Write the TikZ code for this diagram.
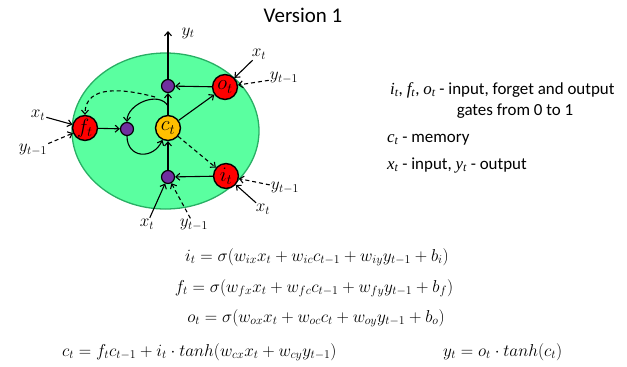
\documentclass[tikz,border=0pt]{standalone}
\usepackage{amsmath}
\usepackage{fontspec}
\newfontfamily\calibri{Carlito}
\newfontfamily\cambria{Liberation Serif}
\usetikzlibrary{arrows, arrows.meta, positioning, calc}
\definecolor{cellgreen}{RGB}{90,255,160}
\definecolor{celledge}{RGB}{40,175,100}
\definecolor{gatered}{RGB}{255,0,0}
\definecolor{memgold}{RGB}{255,192,0}
\definecolor{multpurple}{RGB}{112,48,160}
\newcommand{\cvar}[2]{{\cambria\itshape #1}\textsubscript{\cambria\itshape #2}}
\tikzset{
    gate/.style={circle, draw, line width=1.4pt, fill=gatered, minimum size=25pt, inner sep=0pt, font=\fontsize{20}{22}\selectfont},
    memcell/.style={gate, fill=memgold},
    mult/.style={circle, draw, line width=1.2pt, fill=multpurple, minimum size=13pt, inner sep=0pt},
    lbl/.style={inner sep=1pt, font=\fontsize{17}{19}\selectfont},
    arrow/.style={line width=1.1pt,->,>={Straight Barb[length=4pt,width=7pt]}},
    dsh/.style={dash pattern=on 4pt off 3pt}
}

\begin{document}
\begin{tikzpicture}[x=1bp, y=-1bp,
    eqn/.style={anchor=base, inner sep=0pt, font=\fontsize{17}{19}\selectfont},
    note/.style={anchor=base west, inner sep=0pt, font=\calibri\fontsize{17}{19}\selectfont}]
    \useasboundingbox (0,0) rectangle (627,366);

    % Title
    \node [anchor=base, inner sep=0pt, font=\calibri\fontsize{21}{24}\selectfont] (title) at (303,22) {Version 1};

    % Cell body
    \draw [fill=cellgreen, draw=celledge, line width=1.3pt] (165.5,131) ellipse [x radius=93.5, y radius=78];

    % Gates and memory
    \node (f) [gate] at (85,128) {$f_t$};
    \node (o) [gate] at (225,87) {$o_t$};
    \node (i) [gate] at (226,176) {$i_t$};
    \node (c) [memcell] at (168,128) {$c_t$};
    \node (mf) [mult] at (127,129) {};
    \node (mo) [mult] at (168,86) {};
    \node (mi) [mult] at (168,177) {};

    % Inputs
    \node (xf) [lbl] at (38,115) {$x_t$};
    \node (yf) [lbl] at (33,150) {$y_{t-1}$};
    \node (xo) [lbl] at (259,54) {$x_t$};
    \node (yo) [lbl] at (284,78) {$y_{t-1}$};
    \node (yi) [lbl] at (285,188) {$y_{t-1}$};
    \node (xi) [lbl] at (263,209) {$x_t$};
    \node (xm) [lbl] at (147,224) {$x_t$};
    \node (ym) [lbl] at (194,225) {$y_{t-1}$};
    \coordinate (yout) at (168,31);
    \node (yt) [lbl] at (188,33) {$y_t$};
    \coordinate (ltop) at (168,106);
    \coordinate (dstart) at (155,97);

    % Connections
    \draw [arrow] (xf) -- (f);
    \draw [arrow, dsh] (yf) -- (f);
    \draw [arrow] (xo) -- (o);
    \draw [arrow, dsh] (yo) -- (o);
    \draw [arrow] (xi) -- (i);
    \draw [arrow, dsh] (yi) -- (i);
    \draw [arrow] (xm) -- (mi);
    \draw [arrow, dsh] (ym) -- (mi);

    \draw [arrow] (f) -- (mf);
    \draw [arrow] (c) -- (mo);
    \draw [arrow] (mo) -- (yout);
    \draw [arrow] (o) -- (mo);
    \draw [arrow] (i) -- (mi);
    \draw [arrow] (mi) -- (c);
    \draw [arrow] (c) -- (o);
    \draw [arrow, dsh] (c) -- (i);

    \draw [arrow] (ltop) to[out=120, in=90, looseness=1.05] (mf);
    \draw [arrow] (mf) to[out=-90, in=-115, looseness=1.6] (c);
    \draw [arrow, dsh] (dstart) to[out=165, in=90, looseness=1.1] (f);

    % Legend
    \node (n1) [note] at (390,94) {\cvar{i}{t}, \cvar{f}{t}, \cvar{o}{t} - input, forget and output};
    \node (n2) [note, anchor=base] at (515,115) {gates from 0 to 1};
    \node (n3) [note] at (387,142) {\cvar{c}{t} - memory};
    \node (n4) [note] at (387,169) {\cvar{x}{t} - input, \cvar{y}{t} - output};

    % Equations
    \node (e1) [eqn] at (317,261) {$i_t = \sigma(w_{ix}x_t + w_{ic}c_{t-1} + w_{iy}y_{t-1} + b_i)$};
    \node (e2) [eqn] at (314,292) {$f_t = \sigma(w_{fx}x_t + w_{fc}c_{t-1} + w_{fy}y_{t-1} + b_f)$};
    \node (e3) [eqn] at (316,322) {$o_t = \sigma(w_{ox}x_t + w_{oc}c_t + w_{oy}y_{t-1} + b_o)$};
    \node (e4) [eqn, anchor=base west] at (62,356) {$c_t = f_tc_{t-1} + i_t\cdot tanh(w_{cx}x_t + w_{cy}y_{t-1})$};
    \node (e5) [eqn, anchor=base west] at (443,356) {$y_t = o_t\cdot tanh(c_t)$};
\end{tikzpicture}
\end{document}
